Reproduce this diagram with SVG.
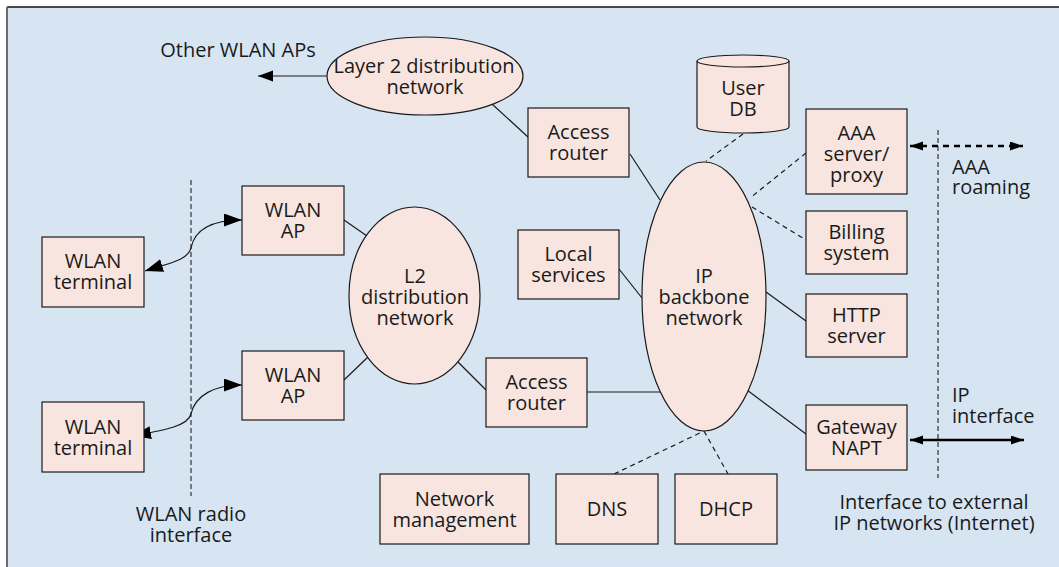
<svg xmlns="http://www.w3.org/2000/svg" width="1059" height="567" viewBox="0 0 1059 567">
<style>
.n{fill:#f8e5df;stroke:#1a1a1a;stroke-width:1.2}
text{font-family:"Open Sans","Liberation Sans",sans-serif;font-size:20px;fill:#1a1a1a;text-anchor:middle}
.l{text-anchor:start}
.c{fill:none;stroke:#1a1a1a;stroke-width:1.2}
.d{fill:none;stroke:#1a1a1a;stroke-width:1.2;stroke-dasharray:5,4}
.v{fill:none;stroke:#333;stroke-width:1.2;stroke-dasharray:5,3}
.t{fill:none;stroke:#000;stroke-width:2.5}
.td{fill:none;stroke:#000;stroke-width:2.5;stroke-dasharray:6,5}
</style>
<defs>
<marker id="ab" markerUnits="userSpaceOnUse" markerWidth="20" markerHeight="16" refX="18" refY="6.5" orient="auto-start-reverse"><path d="M0,0 L18,6.5 L0,13 z" fill="#000"/></marker>
<marker id="am" markerUnits="userSpaceOnUse" markerWidth="16" markerHeight="14" refX="15" refY="5.5" orient="auto-start-reverse"><path d="M0,0 L15,5.5 L0,11 z" fill="#000"/></marker>
<marker id="as" markerUnits="userSpaceOnUse" markerWidth="16" markerHeight="12" refX="13" refY="4.5" orient="auto-start-reverse"><path d="M0,0 L13,4.5 L0,9 z" fill="#000"/></marker>
</defs>
<rect x="7" y="7" width="1052" height="560" fill="#d7e5f3"/>
<line x1="7" y1="7" x2="1059" y2="7" stroke="#111" stroke-width="1.5"/>
<line x1="7" y1="7" x2="7" y2="567" stroke="#6d6d6d" stroke-width="2"/>

<g id="connectors">
<line class="v" x1="191" y1="180" x2="191" y2="496"/>
<line class="v" x1="938" y1="130" x2="938" y2="478"/>
<line class="c" x1="327" y1="76" x2="258" y2="76" marker-end="url(#am)"/>
<path class="c" d="M145,271 C170,263 188,260 191,248 C195,228 215,220 242,220" marker-start="url(#ab)" marker-end="url(#ab)"/>
<path class="c" d="M133,436 C165,430 188,426 191,414 C195,395 215,385 242,385" marker-start="url(#ab)" marker-end="url(#ab)"/>
<line class="c" x1="344" y1="220" x2="367" y2="236"/>
<line class="c" x1="344" y1="380" x2="368" y2="357"/>
<line class="c" x1="458" y1="362" x2="486" y2="390"/>
<line class="c" x1="587" y1="392" x2="660" y2="392"/>
<line class="c" x1="619" y1="269" x2="642" y2="298"/>
<line class="c" x1="492" y1="104" x2="528" y2="137"/>
<line class="c" x1="630" y1="154" x2="660" y2="200"/>
<line class="d" x1="743" y1="134" x2="706" y2="161"/>
<line class="d" x1="806" y1="153" x2="750" y2="198"/>
<line class="d" x1="752" y1="207" x2="806" y2="240"/>
<line class="c" x1="766" y1="292" x2="806" y2="321"/>
<line class="c" x1="747" y1="390" x2="806" y2="434"/>
<line class="d" x1="614" y1="474" x2="704" y2="431"/>
<line class="d" x1="704" y1="431" x2="728" y2="474"/>
<line class="t" x1="910" y1="440" x2="1024" y2="440" marker-start="url(#as)" marker-end="url(#as)"/>
<line class="td" x1="910" y1="146" x2="1023" y2="146" marker-start="url(#as)" marker-end="url(#as)"/>
</g>

<g id="layer2net"><ellipse class="n" cx="425" cy="76" rx="98" ry="39"/><text x="424" y="73">Layer 2 distribution<tspan x="425" dy="21">network</tspan></text></g>
<g id="accessrouter1"><rect class="n" x="528" y="108" width="101" height="69"/><text x="578.5" y="139">Access<tspan x="578.5" dy="21">router</tspan></text></g>
<g id="userdb"><path class="n" d="M697,61 L697,127 A46,6 0 0 0 789,127 L789,61"/><ellipse class="n" cx="743" cy="61" rx="46" ry="6"/><text x="743" y="95">User<tspan x="743" dy="21">DB</tspan></text></g>
<g id="aaa"><rect class="n" x="806" y="109" width="101" height="85"/><text x="856.5" y="139.5">AAA<tspan x="856.5" dy="21">server/</tspan><tspan x="856.5" dy="21">proxy</tspan></text></g>
<g id="billing"><rect class="n" x="806" y="211" width="101" height="63"/><text x="856.5" y="239">Billing<tspan x="856.5" dy="21">system</tspan></text></g>
<g id="http"><rect class="n" x="806" y="294" width="101" height="63"/><text x="856.5" y="322">HTTP<tspan x="856.5" dy="21">server</tspan></text></g>
<g id="gateway"><rect class="n" x="806" y="405" width="101" height="65"/><text x="856.5" y="434">Gateway<tspan x="856.5" dy="21">NAPT</tspan></text></g>
<g id="ipbackbone"><ellipse class="n" cx="704" cy="296.5" rx="62" ry="134.5"/><text x="704" y="283">IP<tspan x="704" dy="21">backbone</tspan><tspan x="704" dy="21">network</tspan></text></g>
<g id="localservices"><rect class="n" x="518" y="230" width="101" height="69"/><text x="568.5" y="261">Local<tspan x="568.5" dy="21">services</tspan></text></g>
<g id="accessrouter2"><rect class="n" x="486" y="358" width="101" height="69"/><text x="536.5" y="389">Access<tspan x="536.5" dy="21">router</tspan></text></g>
<g id="l2net"><ellipse class="n" cx="414.5" cy="295.5" rx="65.5" ry="88.5"/><text x="415" y="283">L2<tspan x="415" dy="21">distribution</tspan><tspan x="415" dy="21">network</tspan></text></g>
<g id="ap1"><rect class="n" x="242" y="186" width="102" height="69"/><text x="293" y="217">WLAN<tspan x="293" dy="21">AP</tspan></text></g>
<g id="ap2"><rect class="n" x="242" y="351" width="102" height="69"/><text x="293" y="382">WLAN<tspan x="293" dy="21">AP</tspan></text></g>
<g id="term1"><rect class="n" x="42" y="237" width="102" height="70"/><text x="93" y="268">WLAN<tspan x="93" dy="21">terminal</tspan></text></g>
<g id="term2"><rect class="n" x="42" y="402" width="102" height="70"/><text x="93" y="434">WLAN<tspan x="93" dy="21">terminal</tspan></text></g>
<g id="netmgmt"><rect class="n" x="380" y="474" width="149" height="70"/><text x="454.5" y="506">Network<tspan x="454.5" dy="21">management</tspan></text></g>
<g id="dns"><rect class="n" x="556" y="474" width="102" height="70"/><text x="607" y="516">DNS</text></g>
<g id="dhcp"><rect class="n" x="675" y="474" width="102" height="70"/><text x="726" y="516">DHCP</text></g>

<g id="labels">
<text x="238" y="57">Other WLAN APs</text>
<text x="191" y="521">WLAN radio<tspan x="191" dy="21">interface</tspan></text>
<text class="l" x="952" y="174">AAA<tspan x="952" dy="20">roaming</tspan></text>
<text class="l" x="952" y="402">IP<tspan x="952" dy="21">interface</tspan></text>
<text x="934" y="509">Interface to external<tspan x="934" dy="21">IP networks (Internet)</tspan></text>
</g>
</svg>
